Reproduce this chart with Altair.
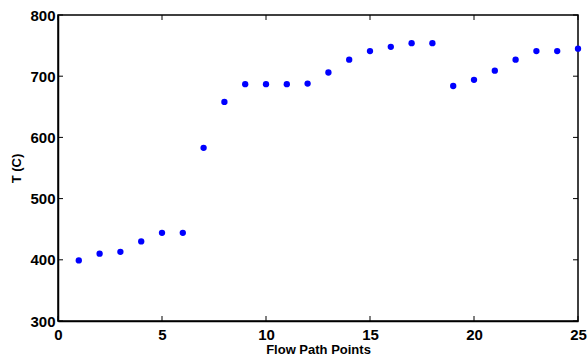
import altair as alt
import pandas as pd

points = list(range(1, 26))
temps = [399, 410, 413, 430, 444, 444, 583, 658, 687, 687, 687, 688, 706, 727,
         741, 748, 754, 754, 684, 694, 709, 727, 741, 741, 745]
x_ticks = [0, 5, 10, 15, 20, 25]
y_ticks = [300, 400, 500, 600, 700, 800]

W, H = 520, 306
FONT = "Liberation Sans"

df = pd.DataFrame({"x": points, "T": temps})
xt = pd.DataFrame({"x": x_ticks})
yt = pd.DataFrame({"y": y_ticks})

xs = alt.Scale(domain=[0, 25], nice=False)
ys = alt.Scale(domain=[300, 800], nice=False)

pts = alt.Chart(df).mark_circle(size=40, color="#0000ff", opacity=1, clip=False).encode(
    x=alt.X("x:Q", scale=xs, title="Flow Path Points",
            axis=alt.Axis(values=x_ticks, tickSize=0, labelPadding=6, format="d",
                          titlePadding=1)),
    y=alt.Y("T:Q", scale=ys, title="T (C)",
            axis=alt.Axis(values=y_ticks, tickSize=0, labelPadding=3, format="d",
                          titlePadding=6)),
)

tk = 5
xb = alt.Chart(xt).mark_rule(color="black", strokeWidth=1).encode(
    x=alt.X("x:Q", scale=xs), y=alt.value(H), y2=alt.value(H - tk))
xtop = alt.Chart(xt).mark_rule(color="black", strokeWidth=1).encode(
    x=alt.X("x:Q", scale=xs), y=alt.value(0), y2=alt.value(tk))
yl = alt.Chart(yt).mark_rule(color="black", strokeWidth=1).encode(
    y=alt.Y("y:Q", scale=ys), x=alt.value(0), x2=alt.value(tk))
yr = alt.Chart(yt).mark_rule(color="black", strokeWidth=1).encode(
    y=alt.Y("y:Q", scale=ys), x=alt.value(W), x2=alt.value(W - tk))

chart = alt.layer(xb, xtop, yl, yr, pts).properties(
    width=W, height=H,
    background="white",
    autosize=alt.AutoSizeParams(type="none"),
    padding={"left": 58, "top": 15, "right": 10, "bottom": 39},
).configure_view(stroke="black", strokeWidth=1.5).configure_axis(
    grid=False, domainColor="black", domainWidth=1.5,
    labelFont=FONT, labelFontSize=15, labelFontWeight="bold", labelColor="black",
    titleFont=FONT, titleFontSize=13, titleFontWeight="bold", titleColor="black",
    labelOverlap=False, labelFlush=False,
)

chart.save("out.html", embed_options={"renderer": "svg", "actions": False})
